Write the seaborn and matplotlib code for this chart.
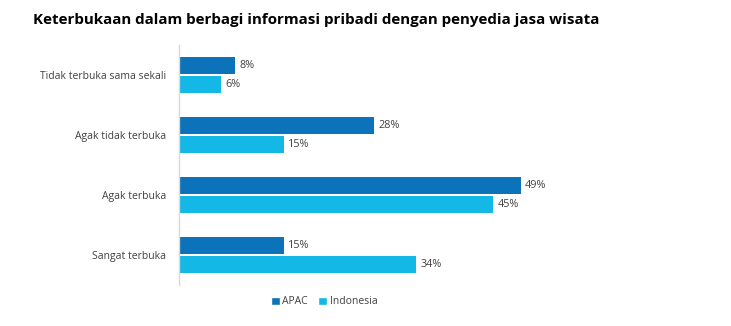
import matplotlib
matplotlib.use("Agg")
import matplotlib.pyplot as plt
import seaborn as sns
import pandas as pd

categories = ["Tidak terbuka sama sekali", "Agak tidak terbuka", "Agak terbuka", "Sangat terbuka"]
apac = [8, 28, 49, 15]
indonesia = [6, 15, 45, 34]
series = ["APAC", "Indonesia"]
colors = ["#0C72BA", "#13B8E6"]

df = pd.DataFrame({
    "cat": categories * 2,
    "val": apac + indonesia,
    "series": [series[0]] * 4 + [series[1]] * 4,
})

sns.set_style("white")
plt.rcParams['font.family'] = ['Open Sans', 'DejaVu Sans']
txt = "#404040"

fig = plt.figure(figsize=(7.31, 3.26), dpi=100)
ax = fig.add_axes([179/731, 1-285/326, (720-179)/731, 240/326])
sns.barplot(data=df, y="cat", x="val", hue="series", order=categories,
            hue_order=series, palette=colors, width=0.64, gap=0.1,
            orient="h", ax=ax, legend=False, saturation=1, linewidth=0)
ax.set_xlim(0, 541/6.98)
ax.set_ylim(3.5, -0.5)
ax.set_xlabel("")
ax.set_ylabel("")
ax.set_xticks([])
for s in ["top", "right", "bottom"]:
    ax.spines[s].set_visible(False)
ax.spines["left"].set_color("#d9d9d9")
ax.spines["left"].set_linewidth(1)
ax.tick_params(axis="y", length=0, pad=9, labelsize=7.5, labelcolor=txt)

for cont in ax.containers:
    ax.bar_label(cont, labels=[f"{v:.0f}%" for v in cont.datavalues],
                 padding=3, fontsize=7.8, color=txt)

from matplotlib.patches import Patch
handles = [Patch(facecolor=c, label=s) for c, s in zip(colors, series)]
fig.legend(handles=handles, loc="center", bbox_to_anchor=(324/731, 1-302/326),
           ncol=2, frameon=False, fontsize=7.5, handlelength=0.85, handleheight=0.85,
           handletextpad=0.25, columnspacing=1.0, labelcolor=txt)

fig.text(33/731, 1-20/326, "Keterbukaan dalam berbagi informasi pribadi dengan penyedia jasa wisata",
         fontsize=10.9, fontweight="bold", color="black", va="center", ha="left")

fig.savefig("out.png", dpi=100, facecolor="white")
